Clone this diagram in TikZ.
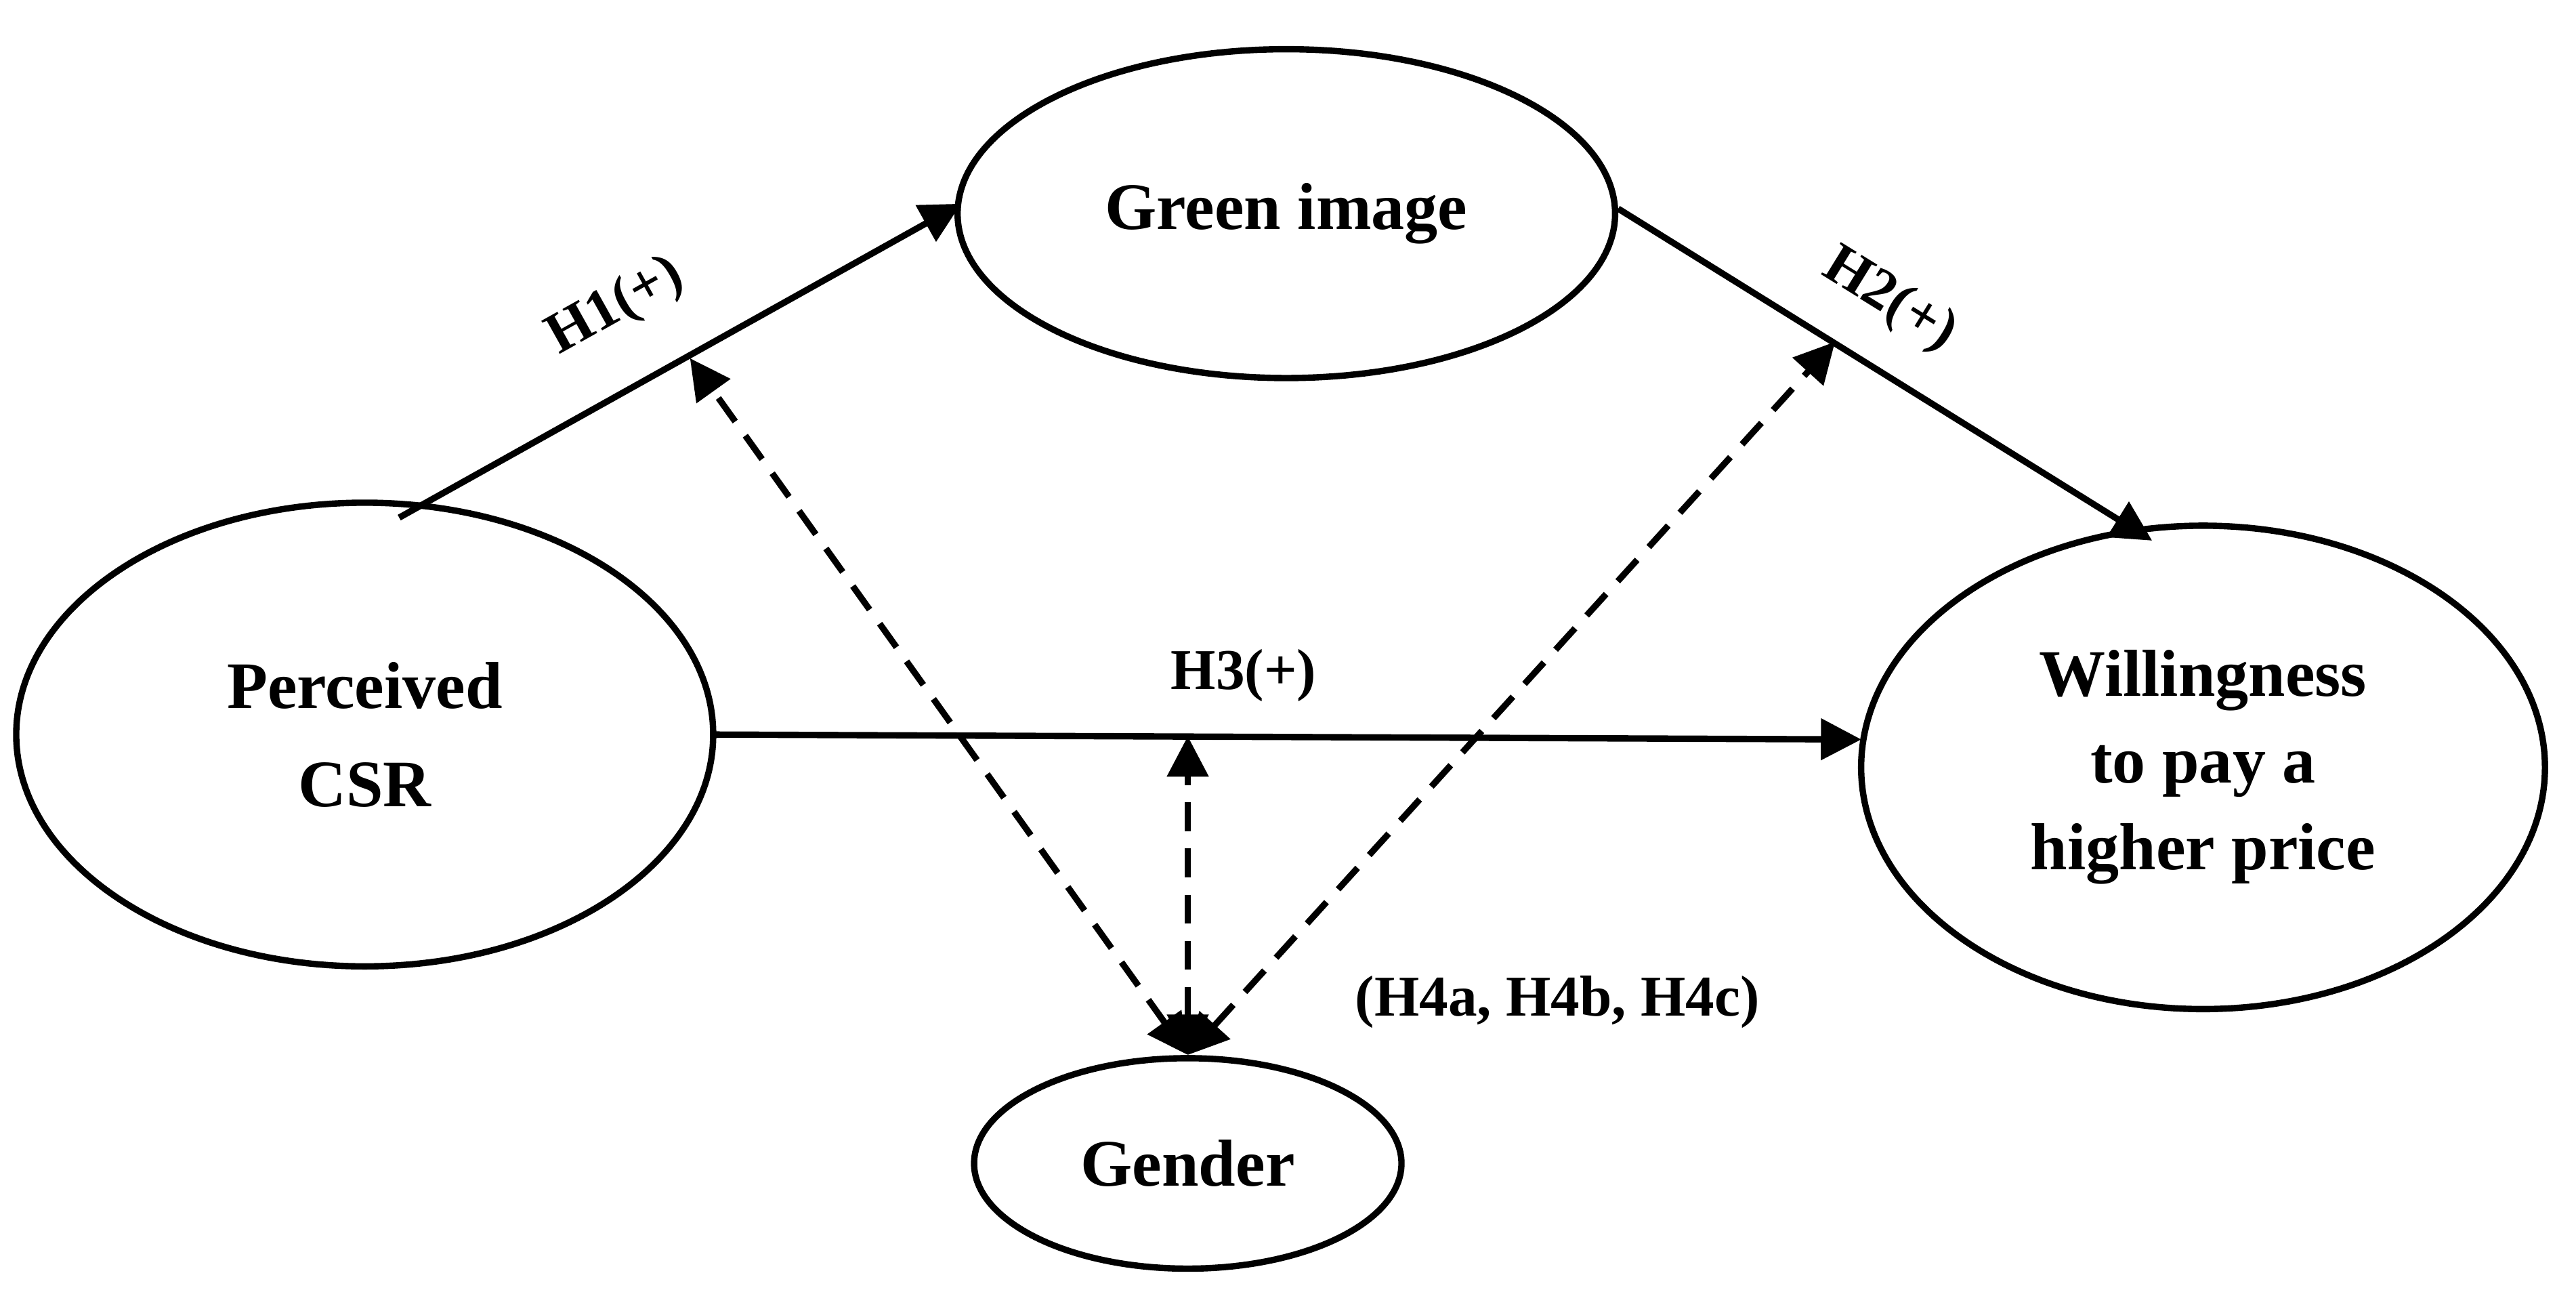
\documentclass[tikz,border=0pt]{standalone}
\usepackage{fontspec}
\setmainfont{Liberation Serif}
\usetikzlibrary{shapes.geometric,arrows.meta}
\begin{document}
\begin{tikzpicture}[x=0.01cm,y=-0.01cm,
  ell/.style={draw,ellipse,line width=1.1pt,inner sep=0pt,font=\bfseries\fontsize{11.5}{15}\selectfont,align=center},
  conn/.style={line width=1.1pt,-{Triangle[length=7pt,width=7pt]}},
  dconn/.style={line width=1.1pt,dashed,dash pattern=on 5pt off 3pt,{Triangle[length=7pt,width=7pt]}-{Triangle[length=7pt,width=7pt]}},
  lab/.style={font=\bfseries\fontsize{10}{12}\selectfont}]
\useasboundingbox (0,0) rectangle (1568,785);
\node[ell,minimum width=4cm,minimum height=2cm] (gi) at (783,130) {Green image};
\node[ell,minimum width=4.24cm,minimum height=2.82cm] (csr) at (222,447) {Perceived\\[2pt]CSR};
\node[ell,minimum width=4.16cm,minimum height=2.94cm] (wtp) at (1341,467) {Willingness\\to pay a\\higher price};
\node[ell,minimum width=2.6cm,minimum height=1.28cm] (gen) at (723,708) {Gender};
\coordinate (s1) at (243,315);
\coordinate (e1) at (585,124);
\draw[conn] (s1) -- (e1);
\coordinate (s2) at (985,127);
\coordinate (e2) at (1310,329);
\draw[conn] (s2) -- (e2);
\coordinate (s3) at (433,447);
\coordinate (e3) at (1133,450);
\draw[conn] (s3) -- (e3);
\node[lab,rotate=29.2] (h1) at (375,187) {H1(+)};
\node[lab,rotate=-31.7] (h2) at (1150,183) {H2(+)};
\node[lab] (h3) at (757,411) {H3(+)};
\coordinate (g0) at (723,642);
\coordinate (d1) at (420,218);
\coordinate (d2) at (1117,208);
\coordinate (d3) at (723,448);
\draw[dconn] (g0) -- (d1);
\draw[dconn] (g0) -- (d2);
\draw[dconn] (g0) -- (d3);
\node[lab] (h4) at (948,610) {(H4a, H4b, H4c)};
\end{tikzpicture}
\end{document}
